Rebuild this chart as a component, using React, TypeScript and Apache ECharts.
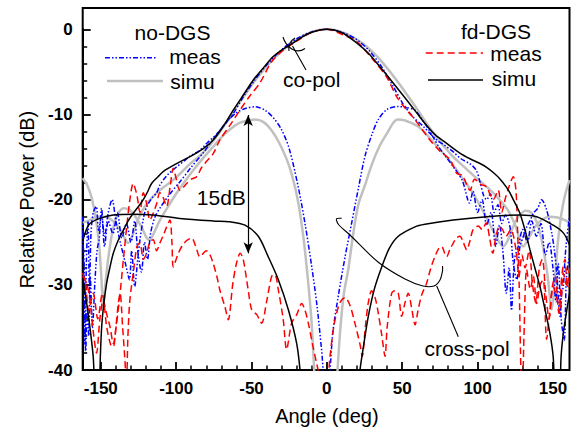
import React, { useEffect, useRef } from 'react';
import * as echarts from 'echarts';

// ---------------- data (angle in deg, relative power in dB) ----------------
const xTickLabels = [-150, -100, -50, 0, 50, 100, 150];
const yTickLabels = [-40, -30, -20, -10, 0];

// no-DGS, simulated, co-pol (gray)
const noDgsSimuCo: number[][] = [
  [-162, -22.7], [-157, -22.4], [-152, -22], [-147, -22], [-142, -22.5], [-138, -23.3], [-134.5, -24.4], [-131.8, -25.1],
  [-129, -24.2], [-125, -22.2], [-120, -20.6], [-114, -19.4], [-108, -18.5], [-100, -17.4], [-92, -16], [-84, -14.8],
  [-78, -13.7], [-72, -12.3], [-66, -10.7], [-60, -9.1], [-54, -7.6], [-48, -6.1], [-42, -4.8], [-36, -3.6], [-30, -2.6],
  [-24, -1.7], [-18, -1], [-12, -0.45], [-6, -0.1], [0, 0], [6, -0.1], [12, -0.45], [18, -1], [24, -1.7], [30, -2.6],
  [36, -3.7], [42, -5], [48, -6.4], [54, -7.9], [60, -9.4], [66, -11], [72, -12.5], [78, -13.8], [84, -15], [92, -16.3],
  [100, -17.6], [108, -18.8], [114, -19.9], [120, -21.2], [125, -23], [130.3, -25.5], [134, -24.5], [138, -23.2],
  [143, -22.3], [148, -22], [153, -22.1], [158, -22.4], [161, -22.7],
];

// no-DGS, simulated, cross-pol (gray)
const noDgsSimuX: number[][] = [
  [-162, -17.5], [-159, -18.3], [-156, -19.8], [-153, -22.5], [-151, -25.5], [-149.5, -29.5], [-148.4, -32.6], [-147, -30],
  [-145, -26.8], [-142, -23.5], [-139, -21.8], [-135, -21], [-131, -21.2], [-127, -22], [-123, -23.2], [-119.5, -24.5],
  [-117.4, -24.7], [-115, -24], [-111, -22.5], [-106, -21], [-100, -19.3], [-94, -17.8], [-88, -16.4], [-82, -15.1],
  [-76, -13.9], [-70, -12.7], [-64, -11.7], [-58, -11], [-52, -10.7], [-47.5, -10.6], [-42, -10.9], [-37, -11.8],
  [-32, -13.2], [-27, -15.1], [-23, -17.2], [-19, -20.3], [-15.5, -24.5], [-12.5, -29.5], [-10.3, -34], [-9, -38],
  [-7.8, -42], [-4, -55], [0, -65], [4, -55], [6.5, -42], [7.8, -38], [9.5, -34], [11.5, -30.8], [14.2, -28.2],
  [17.5, -24], [21, -20.5], [25.3, -18.3], [30, -15.8], [35, -13.7], [40, -12.2], [44, -11], [47, -10.6], [52, -10.7],
  [56, -11], [60.6, -11.4], [66, -12.3], [72, -13.5], [78, -14.7], [84, -16], [90, -17.5], [96, -19], [102, -20.8],
  [107, -22.5], [112, -24.2], [117, -25.5], [120, -24.8], [124, -23], [128, -21.8], [132, -21.3], [136, -21.6],
  [140, -23], [143.5, -25.6], [146.5, -29], [149.2, -32.9], [151, -30], [153, -25.5], [155.5, -21.8], [158, -19.5],
  [161, -17.7],
];

// fd-DGS, simulated, co-pol (black)
const fdDgsSimuCo: number[][] = [
  [-162, -29.2], [-159.5, -32], [-157.2, -35], [-155, -38.5], [-153, -45], [-151.5, -45], [-150.3, -38.5], [-149.4, -34.9],
  [-148, -32.2], [-146.1, -29.8], [-144, -28], [-141.7, -26.3], [-138.5, -24.8], [-135.1, -23.6], [-131.8, -22.5],
  [-128.5, -21.6], [-125, -20.8], [-121.8, -20], [-119, -19.1], [-116.3, -18.1], [-112, -17.3], [-108.6, -16.7],
  [-100, -15.8], [-90.8, -14.95], [-82, -14], [-75.4, -13], [-68, -11.2], [-62.1, -9.5], [-55, -7.6], [-48.8, -5.95],
  [-42, -4.5], [-35.6, -3.2], [-28, -2.2], [-22.3, -1.6], [-17.8, -1.06], [-10, -0.35], [0, 0], [10, -0.4],
  [19.8, -1.6], [28, -2.9], [35.2, -4.4], [44, -6.3], [53, -8.3], [60, -9.9], [66.2, -11.3], [72, -12.4], [79.5, -13.4],
  [88, -14.5], [95, -15.2], [101, -15.7], [106, -16.2], [111, -16.9], [115, -17.6], [119, -18.5], [121.5, -19.2],
  [123.7, -20], [126, -20.8], [128.1, -21.6], [131.5, -23.6], [134.8, -25.9], [138, -28], [141.4, -30.2], [144.5, -32.7],
  [148, -35.7], [150.2, -38.5], [152, -45], [154, -45], [155.4, -38.5], [156.9, -35.7], [159, -33.2], [161, -31],
];

// fd-DGS, simulated, cross-pol (black)
const fdDgsSimuX: number[][] = [
  [-162, -24.9], [-160, -23.7], [-157.2, -22.8], [-150.6, -22.2], [-141.7, -21.8], [-128.5, -21.7], [-115.2, -21.8],
  [-97.5, -22.2], [-75.4, -22.5], [-64.3, -22.6], [-54.3, -23], [-45.5, -24.3], [-38.9, -26.7], [-32.2, -29.4],
  [-25.6, -32.9], [-20, -36.9], [-17.8, -40], [-15, -46], [-8, -60], [0, -70], [10, -60], [18, -47], [22, -40],
  [24.5, -37], [27.5, -33.7], [31.5, -30.5], [36.4, -27.9], [41.5, -25.7], [47.4, -24.3], [58.5, -23.2], [65.1, -22.9],
  [83.9, -22.4], [106, -22], [128.1, -21.8], [139.2, -22], [150.2, -23], [156.9, -23.9], [161, -25.3],
];

// no-DGS, measured, co-pol (blue)
const noDgsMeasCo: number[][] = [
  [-162, -22], [-161.2, -30], [-160.5, -37], [-159.5, -27], [-158.5, -22.5], [-157.5, -31], [-156.5, -24], [-155, -21.5],
  [-153, -20.8], [-151.5, -23.6], [-149.5, -21.8], [-147.5, -24.3], [-145, -21.5], [-142.5, -20], [-140, -22.5],
  [-137.5, -24.7], [-135, -26.5], [-133, -28], [-131, -29.4], [-129.5, -26], [-127.5, -30.2], [-125.5, -27], [-124, -24.7],
  [-121.5, -22], [-119.5, -20.8], [-116, -19.8], [-113, -19.2], [-110.8, -18.3], [-106.3, -17.2], [-100, -16.2],
  [-95, -15.5], [-90.8, -14.9], [-84.2, -14.2], [-79.8, -13.4], [-73.1, -12.3], [-66, -10.8], [-62.1, -9.9], [-55, -7.8],
  [-48, -6], [-40, -4.2], [-30, -2.4], [-20, -1.1], [-10, -0.3], [0, 0], [10, -0.35], [19.8, -1.2], [28, -2.5],
  [36, -4.3], [44, -6.7], [50, -8.6], [57.3, -10.3], [64, -11.4], [72.9, -13], [78, -13.6], [83.9, -14.4], [89, -15.2],
  [95, -15.8], [99, -16.5], [101.6, -17.9], [104, -19.5], [106, -20], [108.5, -19.3], [111, -21.5], [113.5, -20.6],
  [116, -22.8], [118.5, -21.8], [121.5, -23.2], [123.7, -27.5], [126, -29.4], [128.1, -25.5], [130, -24.5],
  [132.6, -23.2], [135, -22.4], [137, -21.6], [140, -21], [142.5, -20], [145.8, -21.2], [149.2, -23.9], [151, -26],
  [152.5, -28.6], [154.7, -33.7], [155.8, -31], [156.9, -30.2], [158, -27], [159.1, -24.7], [161, -22],
];

// no-DGS, measured, cross-pol (blue)
const noDgsMeasX: number[][] = [
  [-162, -24], [-161, -28], [-160, -38], [-159, -33], [-158, -36], [-157, -29], [-155.5, -35], [-154, -30], [-152.5, -26],
  [-151, -24.5], [-149.5, -21], [-147.5, -25.5], [-145, -22.5], [-142, -24], [-139, -21.5], [-136, -24.5], [-133, -22.8],
  [-130, -25], [-127.5, -22.5], [-125.5, -26], [-123, -28.5], [-121, -25], [-119, -27], [-117, -24], [-114, -22],
  [-110, -20.8], [-104, -19.3], [-97, -17.8], [-90, -16.2], [-82, -14.5], [-75, -12.8], [-67.6, -11.1], [-60, -9.8],
  [-54, -9.3], [-47.7, -9.1], [-41, -9.5], [-35, -10.5], [-30, -11.8], [-25, -14], [-19, -18.5], [-14.5, -22.8],
  [-10.1, -27.8], [-6.5, -32.5], [-3.5, -37.6], [-1.3, -41], [0.9, -41], [4, -35.5], [7.6, -31.3], [12, -26.8],
  [16.5, -22.7], [21, -18.6], [25.3, -14.9], [30, -12.3], [34.1, -10.6], [40, -9.4], [47.4, -9.07], [53, -9.2],
  [58.5, -9.5], [62, -10.3], [66, -11.3], [70, -12.5], [75, -14], [80, -15.2], [85, -16.4], [90, -17.8], [94.7, -20.4],
  [97, -19], [100, -21.5], [103, -20], [106, -23], [109, -21.5], [112, -25.5], [114.5, -23], [117, -26.5], [119, -31],
  [121, -28], [122.5, -33], [124.5, -27], [127, -25.5], [130, -23.5], [133, -25], [136, -22.5], [139, -24.3],
  [142, -22.8], [145, -26.5], [147.5, -25], [150, -28], [152, -32], [153.5, -27.5], [155.5, -34], [157.5, -36.5],
  [159, -29], [161, -26.5],
];

// fd-DGS, measured, co-pol (red)
const fdDgsMeasCo: number[][] = [
  [-162, -29], [-159.4, -29.8], [-157.2, -31.8], [-155, -35.5], [-152.8, -38], [-150.6, -34], [-148.4, -31.8],
  [-146, -33.5], [-143.9, -34.9], [-141.7, -36.9], [-139.5, -34.5], [-137.2, -31], [-135, -27], [-132.8, -23.2],
  [-130.7, -20], [-128.5, -18.1], [-126, -19.5], [-124, -21.5], [-121.8, -19.2], [-119.5, -20.5], [-117.4, -22.4],
  [-115, -21.5], [-113, -20.5], [-110.8, -19.2], [-108.5, -19.8], [-106.3, -20.8], [-104, -18.5], [-101.9, -16.3],
  [-100, -17.5], [-97.5, -18.9], [-93, -18.1], [-90, -17.6], [-86.4, -17.3], [-83, -16.2], [-79.8, -15.5],
  [-75.4, -14.6], [-71, -13], [-64, -11.2], [-57.7, -9.5], [-51, -7.8], [-44.4, -6.3], [-37, -3.9], [-30, -2.6],
  [-20, -1.4], [-10, -0.35], [0, 0], [8.7, -0.5], [19.8, -1.45], [30.8, -3.6], [39.7, -5.6], [46.3, -7.9], [53, -9.5],
  [57, -10.3], [61.8, -11.4], [68.4, -13], [75, -14.3], [81.7, -15.3], [86.1, -16.9], [90, -17.2], [95, -18.9],
  [98, -17.6], [102, -18.2], [106, -18.5], [108.5, -19.5], [110.4, -20], [113.7, -18.9], [116, -21.5], [118.5, -19.8],
  [121, -18.4], [123.7, -17.3], [125.5, -19], [126.6, -24], [127.6, -30], [128.5, -38], [129.5, -45], [130.8, -36],
  [132.6, -28.2], [135, -30.5], [137, -29], [139.2, -32.2], [141.5, -30], [143.6, -29.4], [145.8, -36.4], [148, -33],
  [150.2, -30.2], [152.5, -31.5], [154.7, -33.3], [156.9, -28.6], [158.5, -29.8], [160.2, -30.2], [161, -29.5],
];

// fd-DGS, measured, cross-pol (red)
const fdDgsMeasX: number[][] = [
  [-162, -28.6], [-160, -30], [-158, -33], [-155, -31], [-152, -34], [-149, -31], [-146.1, -34.9], [-143.5, -37],
  [-141.7, -37.3], [-140, -35], [-138.4, -32.2], [-137.2, -31], [-135.5, -35], [-134, -38.8], [-133, -42], [-132, -36],
  [-130.7, -31.8], [-128, -28], [-126, -25.5], [-124, -25.1], [-121.8, -27], [-119.6, -26.3], [-117.5, -25],
  [-115.2, -24.7], [-113, -26], [-110.8, -25.1], [-108.5, -24.2], [-106.3, -23.2], [-104.1, -22.4], [-102.8, -25],
  [-101.9, -27.9], [-99, -26.5], [-96.3, -25.5], [-93, -24.8], [-89.7, -24.5], [-87, -25.5], [-84.2, -26.7], [-80, -26],
  [-77.5, -26.5], [-75.4, -27.5], [-73, -29], [-71, -30.6], [-67.6, -32.6], [-65.4, -34.1], [-62.5, -30], [-60, -27.5],
  [-57.5, -26.3], [-55.5, -27], [-52.2, -30.6], [-49.9, -32.9], [-46.5, -33.5], [-43.3, -34.5], [-40, -32],
  [-36.6, -29], [-34.5, -28.8], [-32.2, -30.6], [-29, -34], [-26.7, -37.6], [-23.4, -34.5], [-20, -33.5],
  [-16.7, -32.2], [-14.5, -33], [-12.3, -34.5], [-9.5, -37], [-6.8, -39.2], [-4.6, -41], [-1, -44], [2.1, -38.4],
  [4.5, -35], [6.5, -33.3], [9, -32], [12, -31.5], [15.3, -32.4], [18.6, -34.5], [22, -37], [23.5, -38.4], [25.5, -35],
  [27.5, -32.1], [29.7, -30.7], [32, -31.5], [34.1, -33.3], [36.5, -36], [38.6, -38.4], [40, -35], [43, -31],
  [45.2, -30.7], [47.4, -31], [49.6, -33.7], [52, -32], [54, -31], [56.5, -33], [58.5, -34.7], [60.5, -33],
  [62.9, -31.2], [66.2, -29.8], [69, -28], [71.7, -26.7], [74, -25.8], [76.2, -25.5], [78, -26.2], [79.5, -26.7],
  [81.7, -25.8], [83.9, -25.1], [86, -24.5], [88.3, -24.3], [90.5, -25], [92.8, -25.9], [94.7, -25], [97.1, -23.5],
  [100.5, -23.1], [103, -23.5], [105.7, -22.7], [108, -24.5], [110.1, -26.3], [112, -24.5], [114.5, -23.1],
  [116.5, -23.5], [118.9, -24.3], [122, -23.5], [125.5, -25.9], [127.5, -29], [129.5, -26.5], [131.5, -28],
  [134.2, -26], [136.5, -30], [138.6, -32.1], [141, -28], [143, -27], [145.2, -31], [147.5, -34], [149.6, -30.2],
  [151.5, -29], [153.9, -33.3], [156.1, -28.6], [158, -27], [159.4, -30.2], [161, -28],
];

// 15 dB arrow (angle, top dB, bottom dB)
const arrowAngle = -52.2;
const arrowTop = -10.06;
const arrowBottom = -26.3;

// ---------------- layout ----------------
const W = 573;
const H = 431;
const X_MIN = -162;
const X_MAX = 161;
const Y_MIN = -40;
const Y_MAX = 2.5;
const GL = 82.7;
const GR = 3.5;
const GT = 8;
const GB = 61;
const FF = "'Liberation Sans', Arial, Helvetica, sans-serif";

const BLUE = '#0000ff';
const RED = '#ff0000';
const GRAY = '#c0c0c0';
const BLACK = '#000000';
const BLUE_DASH = [5, 2, 1.5, 2, 1.5, 2];
const RED_DASH = [7, 4];

export default function App() {
  const ref = useRef<HTMLDivElement>(null);

  useEffect(() => {
    if (!ref.current) return;
    const chart = echarts.init(ref.current, undefined, { renderer: 'svg' });

    const plotW = W - GL - GR;
    const plotH = H - GT - GB;
    const pxDeg = plotW / (X_MAX - X_MIN);
    const pxDb = plotH / (Y_MAX - Y_MIN);
    const xLo = xTickLabels[0];
    const xHi = xTickLabels[xTickLabels.length - 1];
    const yLo = yTickLabels[0];
    const yHi = yTickLabels[yTickLabels.length - 1];
    const g2Left = GL + (xLo - X_MIN) * pxDeg;
    const g2Right = GR + (X_MAX - xHi) * pxDeg;
    const g2Top = GT + (Y_MAX - yHi) * pxDb;
    const g2Bottom = GB + (yLo - Y_MIN) * pxDb;

    const mk = (name: string, data: number[][], color: string, width: number, type: any, z: number, extra: any = {}) => ({
      name,
      type: 'line',
      xAxisIndex: 0,
      yAxisIndex: 0,
      data,
      symbol: 'none',
      smooth: 0.3,
      clip: true,
      z,
      silent: true,
      lineStyle: { color, width, type, cap: 'butt' },
      ...extra,
    });

    const txt = (text: string, x: number, y: number, size: number) => ({
      type: 'text',
      x,
      y,
      z: 100,
      style: { text, fill: '#000', fontSize: size, fontFamily: FF, align: 'center', verticalAlign: 'middle' },
    });
    const seg = (x1: number, y1: number, x2: number, y2: number, stroke: string, lineWidth: number, lineDash?: number[]) => ({
      type: 'line',
      z: 100,
      shape: { x1, y1, x2, y2 },
      style: { stroke, lineWidth, lineDash: lineDash || null },
    });

    const axisLabel = { color: '#000', fontSize: 17, fontWeight: 'bold', fontFamily: FF, margin: 10 };
    const axisLine = { show: true, onZero: false, lineStyle: { color: '#000', width: 2 } };
    const axisTick = { show: true, inside: true, length: 8, lineStyle: { color: '#000', width: 1.8 } };
    const minorTick = { show: true, splitNumber: 5, length: 4.5, lineStyle: { color: '#000', width: 1.5 } };
    const nameTextStyle = { color: '#000', fontSize: 20, fontFamily: FF };

    chart.setOption({
      animation: false,
      backgroundColor: '#fff',
      grid: [
        { left: GL, right: GR, top: GT, bottom: GB, show: true, borderColor: '#000', borderWidth: 2, backgroundColor: 'transparent' },
        { left: g2Left, right: g2Right, top: g2Top, bottom: g2Bottom, show: false },
      ],
      xAxis: [
        { type: 'value', gridIndex: 0, min: X_MIN, max: X_MAX, show: false },
        {
          type: 'value', gridIndex: 1, min: xLo, max: xHi, interval: 50,
          axisLine, axisTick, minorTick, splitLine: { show: false }, minorSplitLine: { show: false },
          axisLabel, name: 'Angle (deg)', nameLocation: 'middle', nameGap: 36, nameTextStyle,
        },
      ],
      yAxis: [
        { type: 'value', gridIndex: 0, min: Y_MIN, max: Y_MAX, show: false },
        {
          type: 'value', gridIndex: 1, min: yLo, max: yHi, interval: 10, offset: g2Left - GL,
          axisLine, axisTick, minorTick, splitLine: { show: false }, minorSplitLine: { show: false },
          axisLabel, name: 'Relative Power (dB)', nameLocation: 'middle', nameGap: 46, nameTextStyle,
        },
      ],
      series: [
        mk('no-DGS simu co-pol', noDgsSimuCo, GRAY, 2.5, 'solid', 1),
        mk('no-DGS simu cross-pol', noDgsSimuX, GRAY, 2.5, 'solid', 1),
        mk('no-DGS meas co-pol', noDgsMeasCo, BLUE, 1.5, BLUE_DASH, 2),
        mk('no-DGS meas cross-pol', noDgsMeasX, BLUE, 1.5, BLUE_DASH, 2),
        mk('fd-DGS meas co-pol', fdDgsMeasCo, RED, 1.5, RED_DASH, 3),
        mk('fd-DGS meas cross-pol', fdDgsMeasX, RED, 1.5, RED_DASH, 3),
        mk('fd-DGS simu co-pol', fdDgsSimuCo, BLACK, 1.5, 'solid', 4),
        mk('fd-DGS simu cross-pol', fdDgsSimuX, BLACK, 1.5, 'solid', 4, {
          markLine: {
            silent: true,
            symbol: ['arrow', 'arrow'],
            symbolSize: [7, 11],
            label: { show: false },
            lineStyle: { color: '#000', width: 1.2, type: 'solid' },
            data: [[{ coord: [arrowAngle, arrowTop] }, { coord: [arrowAngle, arrowBottom] }]],
          },
        }),
      ],
      graphic: [
        // legend, left group
        txt('no-DGS', 172.5, 32, 21),
        seg(105, 57.7, 157, 57.7, BLUE, 1.5, BLUE_DASH),
        txt('meas', 195, 56.5, 21),
        seg(107, 81, 163, 81, GRAY, 2.5),
        txt('simu', 192.5, 81.5, 21),
        // legend, right group
        txt('fd-DGS', 496, 31.5, 21),
        seg(425.7, 53, 483, 53, RED, 1.5, RED_DASH),
        txt('meas', 516, 53.5, 21),
        seg(428, 80, 483, 80, BLACK, 1.5),
        txt('simu', 514, 78.5, 21),
        // annotations
        txt('co-pol', 311.7, 79, 21),
        {
          type: 'bezierCurve', z: 100,
          shape: { x1: 283, y1: 37, cpx1: 286, cpy1: 47, cpx2: 296, cpy2: 55, x2: 305, y2: 48.5 },
          style: { stroke: '#000', lineWidth: 1.1, fill: 'none' },
        },
        {
          type: 'bezierCurve', z: 100,
          shape: { x1: 295, y1: 38, cpx1: 290, cpy1: 41, cpx2: 288, cpy2: 46, x2: 289, y2: 51 },
          style: { stroke: '#000', lineWidth: 1.1, fill: 'none' },
        },
        seg(292.5, 46, 306, 70, '#000', 1.1),
        txt('15dB', 221.3, 197, 21),
        txt('cross-pol', 467, 348, 21),
        {
          type: 'polyline', z: 100,
          shape: {
            points: [[341.7, 218.3], [336.5, 218.8], [338.5, 224.5], [350, 235], [378, 262], [405, 279], [423, 286], [434, 286], [440, 280], [442.5, 271], [442.5, 266]],
            smooth: 0.3,
          },
          style: { stroke: '#000', lineWidth: 1.1, fill: 'none' },
        },
        seg(436.7, 286, 458.3, 336.7, '#000', 1.1),
      ],
    });

    return () => chart.dispose();
  }, []);

  return <div ref={ref} style={{ position: 'absolute', left: 0, top: 0, width: W, height: H }} />;
}
